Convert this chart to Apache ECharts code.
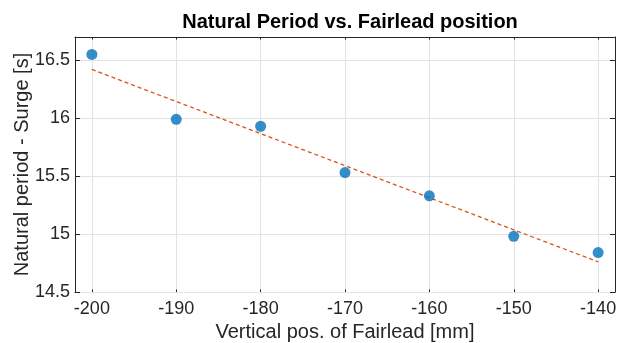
<!DOCTYPE html>
<html><head><meta charset="utf-8">
<script src="https://cdn.jsdelivr.net/npm/echarts@6/dist/echarts.min.js"></script>
<style>html,body{margin:0;padding:0;background:#fff}#c{width:622px;height:343px}</style>
</head><body><div id="c"></div>
<script>
const positions = [-200, -190, -180, -170, -160, -150, -140];
const periods = [16.55, 15.99, 15.93, 15.53, 15.33, 14.98, 14.84];
const fitX = [-200, -140];
const fitY = [16.42, 14.76];
const xTicks = [-200, -190, -180, -170, -160, -150, -140];
const yTicks = [14.5, 15, 15.5, 16, 16.5];

const xMin = -202, xMax = -138, yMin = 14.5, yMax = 16.7;
const font = '"Liberation Sans", Arial, Helvetica, sans-serif';
const axisColor = '#262626';
const gridColor = '#e3e3e3';

const chart = echarts.init(document.getElementById('c'), null, {renderer: 'canvas'});
const baseX = {
  type: 'value', min: xMin, max: xMax,
  axisLine: {show: true, onZero: false, lineStyle: {color: axisColor, width: 1}},
  axisTick: {show: false},
  splitLine: {show: false}
};
const baseY = {
  type: 'value', min: yMin, max: yMax,
  axisLine: {show: true, onZero: false, lineStyle: {color: axisColor, width: 1}},
  axisTick: {show: false},
  splitLine: {show: false}
};
// tick lengths in data units (about 5 px)
const tyLen = 0.022, txLen = 0.6;
const tickLines = []
  .concat(xTicks.map(v => [{coord: [v, yMin]}, {coord: [v, yMin + tyLen]}]))
  .concat(xTicks.map(v => [{coord: [v, yMax]}, {coord: [v, yMax - tyLen]}]))
  .concat(yTicks.map(v => [{coord: [xMin, v]}, {coord: [xMin + txLen, v]}]))
  .concat(yTicks.map(v => [{coord: [xMax, v]}, {coord: [xMax - txLen, v]}]));

chart.setOption({
  animation: false,
  title: {text: 'Natural Period vs. Fairlead position', left: 345, top: 7, textAlign: 'center',
    textStyle: {fontFamily: font, fontSize: 20, fontWeight: 'bold', color: '#000'}},
  grid: {left: 75, right: 7, top: 37, bottom: 51, containLabel: false, outerBoundsMode: 'none'},
  xAxis: [
    Object.assign({}, baseX, {position: 'bottom',
      name: 'Vertical pos. of Fairlead [mm]', nameLocation: 'middle', nameGap: 29,
      nameTextStyle: {fontFamily: font, fontSize: 20, color: '#262626'},
      axisLabel: {show: true, customValues: xTicks, fontFamily: font, fontSize: 18, color: '#262626', margin: 8}}),
    Object.assign({}, baseX, {position: 'top', axisLabel: {show: false}})
  ],
  yAxis: [
    Object.assign({}, baseY, {position: 'left',
      name: 'Natural period - Surge [s]', nameLocation: 'middle', nameGap: 43, nameMoveOverlap: false,
      nameTextStyle: {fontFamily: font, fontSize: 20, color: '#262626'},
      axisLabel: {show: true, customValues: yTicks, fontFamily: font, fontSize: 18, color: '#262626', margin: 5}}),
    Object.assign({}, baseY, {position: 'right', axisLabel: {show: false}})
  ],
  series: [
    {type: 'line', silent: true, symbol: 'none', data: [], z: 1,
      markLine: {silent: true, symbol: 'none', z: 1, label: {show: false}, animation: false,
        lineStyle: {color: gridColor, width: 1, type: 'solid'},
        data: xTicks.map(v => ({xAxis: v})).concat(yTicks.map(v => ({yAxis: v})))}},
    {type: 'line', silent: true, symbol: 'none', data: [], z: 6,
      markLine: {silent: true, symbol: 'none', z: 6, label: {show: false}, animation: false,
        lineStyle: {color: axisColor, width: 1, type: 'solid'},
        data: tickLines}},
    {type: 'line', data: fitX.map((x, i) => [x, fitY[i]]), symbol: 'none',
      lineStyle: {color: '#D95319', width: 1.3, type: [4, 3]}, z: 3},
    {type: 'scatter', data: positions.map((x, i) => [x, periods[i]]), symbolSize: 11,
      itemStyle: {color: '#0072BD'}, z: 4}
  ]
});
</script></body></html>
